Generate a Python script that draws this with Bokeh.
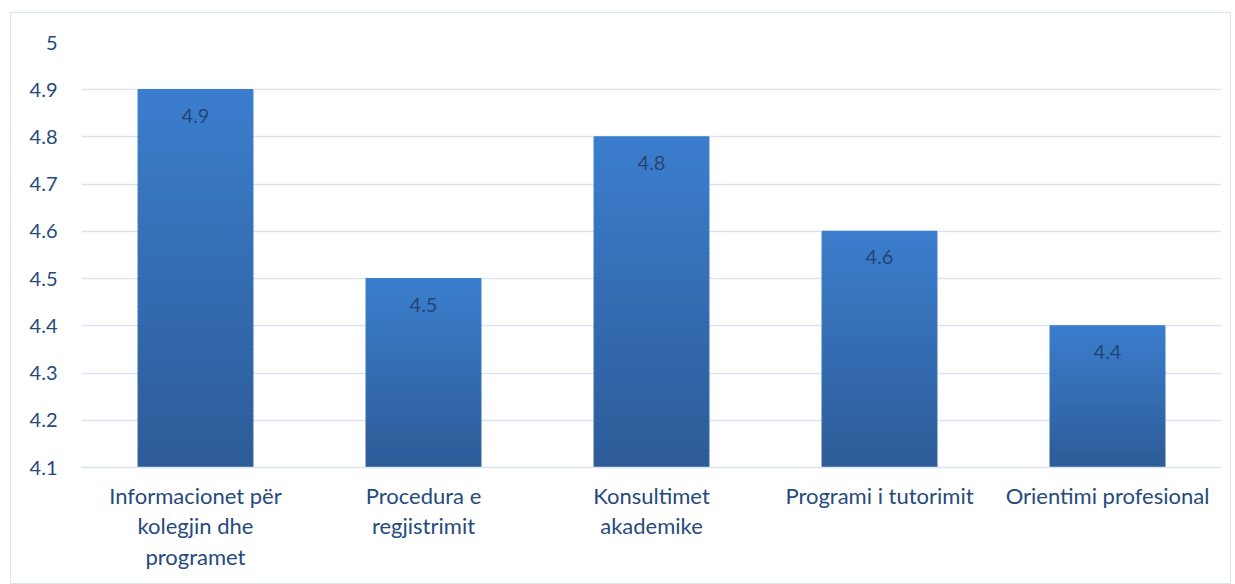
from bokeh.plotting import figure
from bokeh.models import FactorRange, Range1d, FixedTicker, ColumnDataSource
from bokeh.core.properties import value
from bokeh.embed import file_html
from bokeh.resources import INLINE

categories = ["Informacionet për\nkolegjin dhe\nprogramet", "Procedura e\nregjistrimit",
              "Konsultimet\nakademike", "Programi i tutorimit", "Orientimi profesional"]
scores = [4.9, 4.5, 4.8, 4.6, 4.4]
y_ticks = [4.1, 4.2, 4.3, 4.4, 4.5, 4.6, 4.7, 4.8, 4.9, 5.0]
y_tick_labels = ["4.1", "4.2", "4.3", "4.4", "4.5", "4.6", "4.7", "4.8", "4.9", "5"]
y_min, y_max = 4.1, 5.0

TEXT = "#264a7c"
GRID = "#d9e3f1"
FONT = "Lato"

p = figure(x_range=FactorRange(factors=categories, range_padding=0.0),
           y_range=Range1d(y_min, y_max),
           width=1221, height=572, output_backend="svg", toolbar_location=None,
           min_border_left=70, min_border_right=11, min_border_top=29, min_border_bottom=118)
p.styles = {"border": "1.5px solid #dce5f0", "box-sizing": "border-box",
            "margin-left": "10px", "margin-top": "12px"}
p.outline_line_color = None
p.background_fill_color = "white"

# gradient bars: each bar drawn in thin horizontal bands (lighter top, darker bottom)
N = 80
top_rgb = (0x3b, 0x7e, 0xcd)
bot_rgb = (0x2d, 0x5b, 0x97)
xs, bots, tops, cols = [], [], [], []
for c, v in zip(categories, scores):
    h = v - y_min
    for i in range(N):
        f = (i + 0.5) / N
        r = int(round(bot_rgb[0] + (top_rgb[0] - bot_rgb[0]) * f))
        g = int(round(bot_rgb[1] + (top_rgb[1] - bot_rgb[1]) * f))
        b = int(round(bot_rgb[2] + (top_rgb[2] - bot_rgb[2]) * f))
        xs.append(c)
        bots.append(y_min + h * i / N)
        tops.append(y_min + h * (i + 1) / N)
        cols.append("#%02x%02x%02x" % (r, g, b))
src = ColumnDataSource(dict(x=xs, bottom=bots, top=tops, color=cols))
p.vbar(x="x", bottom="bottom", top="top", width=0.503, source=src,
       fill_color="color", line_color="color", line_width=1.2)

lab = ColumnDataSource(dict(x=categories, y=scores, t=[f"{v:.1f}" for v in scores]))
p.text(x="x", y="y", text="t", source=lab, y_offset=26, text_align="center",
       text_baseline="middle", text_font=value(FONT), text_font_size="20px",
       text_color="#1d3f6e", text_alpha=0.9)

p.yaxis.ticker = FixedTicker(ticks=y_ticks)
p.yaxis.major_label_overrides = {t: l for t, l in zip(y_ticks, y_tick_labels)}
p.yaxis.axis_line_color = None
p.yaxis.major_tick_line_color = None
p.yaxis.minor_tick_line_color = None
p.yaxis.major_label_text_font = FONT
p.yaxis.major_label_text_font_size = "20px"
p.yaxis.major_label_text_color = TEXT
p.yaxis.major_label_standoff = 18

p.xaxis.axis_line_color = GRID
p.xaxis.axis_line_width = 1.5
p.xaxis.major_tick_line_color = None
p.xaxis.minor_tick_line_color = None
p.xaxis.major_label_text_font = FONT
p.xaxis.major_label_text_font_size = "22px"
p.xaxis.major_label_text_color = TEXT
p.xaxis.major_label_standoff = 8
p.xaxis.major_label_text_line_height = 1.13

p.xgrid.grid_line_color = None
p.ygrid.grid_line_color = GRID
p.ygrid.grid_line_width = 1.5

open("out.html", "w").write(file_html(p, INLINE))
